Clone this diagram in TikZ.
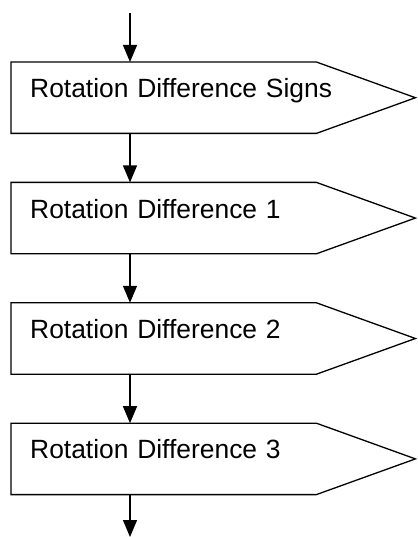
\documentclass[tikz,border=0pt]{standalone}
\usepackage{fontspec}
\setmainfont{Liberation Sans}
\usetikzlibrary{arrows.meta,positioning}

\begin{document}
\begin{tikzpicture}[
  x=1pt, y=1pt,
  sigbox/.style={inner xsep=19pt, inner ysep=0pt, text width=366pt, align=left,
                 text height=35.5pt, text depth=35.5pt,
                 font=\fontsize{26.4pt}{30pt}\selectfont},
  flow/.style={-{Triangle[width=14pt,length=17pt]}, line width=1.3pt},
  node distance=49pt
]
  \useasboundingbox (0,0) rectangle (417,-537);

  \node[sigbox, anchor=north west] (s1) at (11,-62) {Rotation Difference Signs};
  \node[sigbox, below=of s1] (s2) {Rotation Difference 1};
  \node[sigbox, below=of s2] (s3) {Rotation Difference 2};
  \node[sigbox, below=of s3] (s4) {Rotation Difference 3};

  \foreach \n in {s1,s2,s3,s4}
    \draw[line width=1.3pt] (\n.north west) -- ([xshift=-99pt]\n.north east) -- (\n.east)
      -- ([xshift=-99pt]\n.south east) -- (\n.south west) -- cycle;

  \coordinate (in) at (130,-13);
  \coordinate (out) at (130,-537);

  \draw[flow] (in) -- ([xshift=119pt]s1.north west);
  \foreach \a/\b in {s1/s2,s2/s3,s3/s4}
    \draw[flow] ([xshift=119pt]\a.south west) -- ([xshift=119pt]\b.north west);
  \draw[flow] ([xshift=119pt]s4.south west) -- (out);
\end{tikzpicture}
\end{document}
